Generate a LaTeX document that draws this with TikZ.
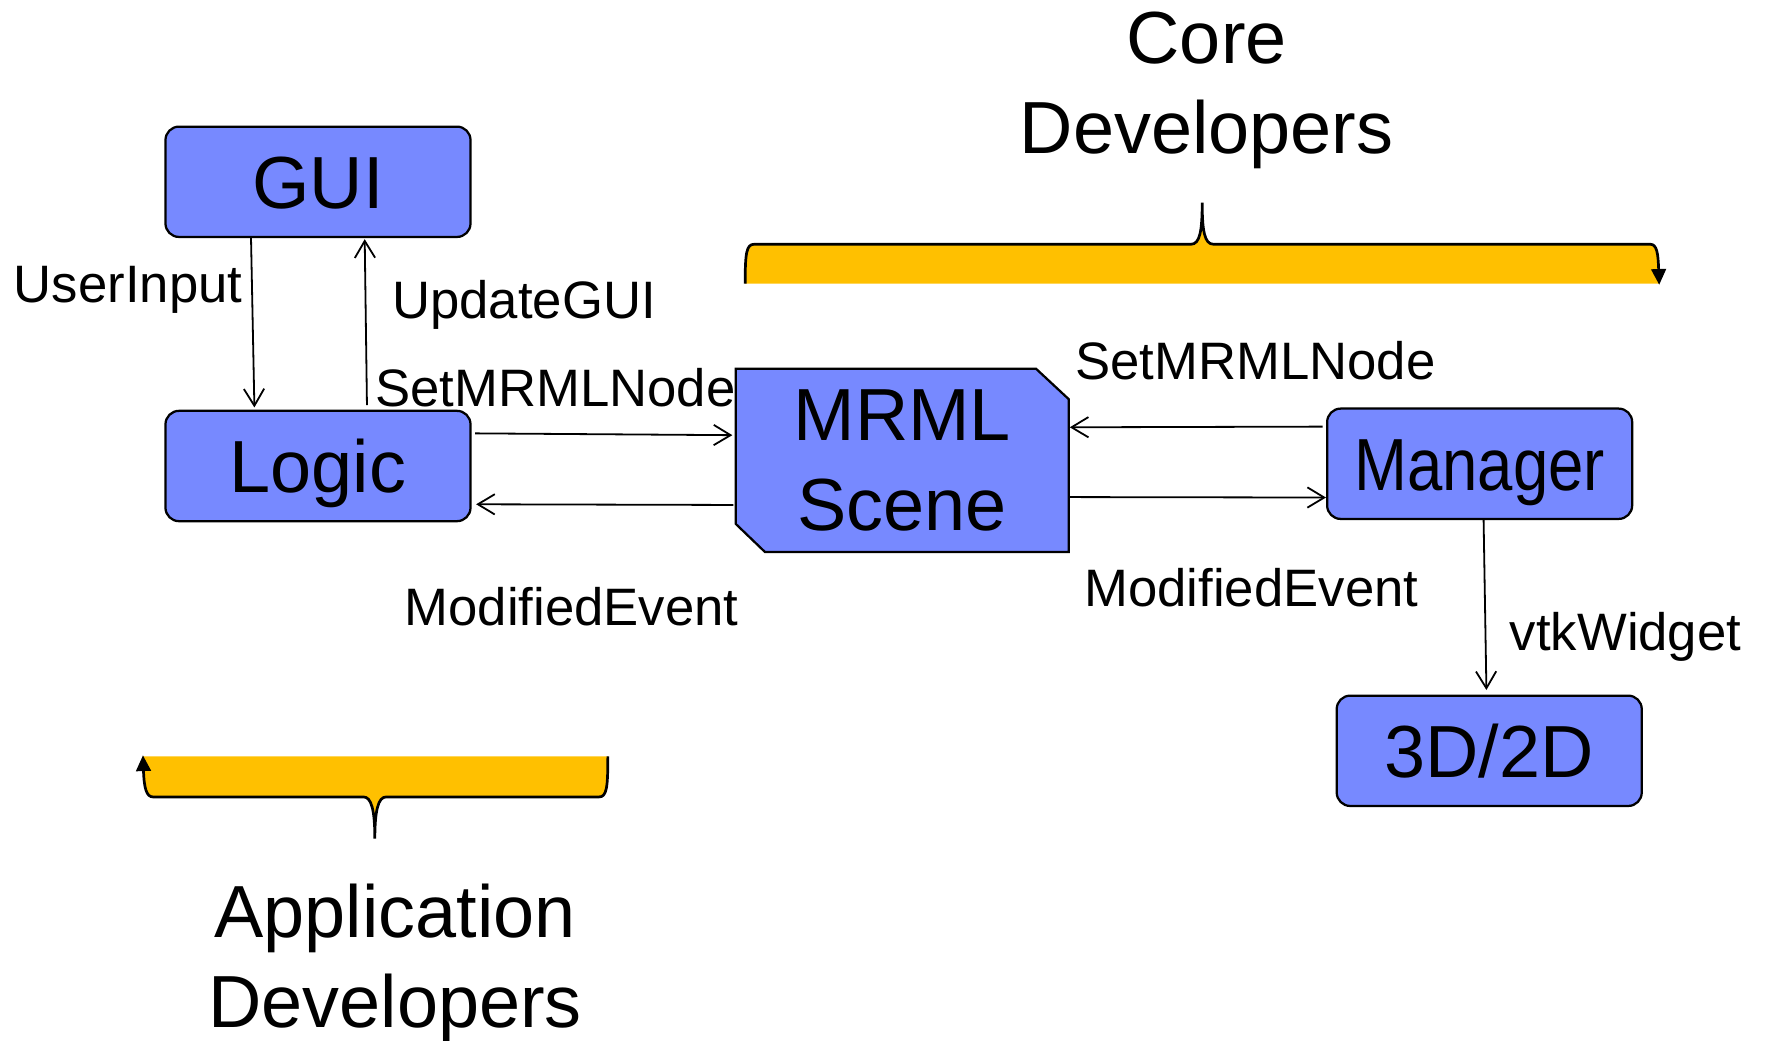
\documentclass[tikz,border=0pt]{standalone}
\usepackage{fontspec}
\setmainfont{Liberation Sans}
\usetikzlibrary{arrows.meta,calc,backgrounds}
\definecolor{boxblue}{RGB}{119,137,255}
\definecolor{braceorange}{RGB}{255,192,0}
\newcommand{\bigfnt}{\fontsize{32.8}{40}\selectfont}
\newcommand{\lblfnt}{\fontsize{23.4}{28}\selectfont}
\tikzset{
  box/.style={draw=black, line width=1pt, fill=boxblue, rounded corners=6pt,
    minimum width=135.5pt, minimum height=49pt, inner sep=0pt,
    text height=23.5pt, text depth=0pt, font=\bigfnt},
  lbl/.style={inner sep=0pt, anchor=base west, font=\lblfnt},
  arr/.style={line width=0.8pt, -{Straight Barb[length=7.5pt,width=9pt]}},
  bracefill/.style={fill=braceorange},
  braceline/.style={line width=1.2pt, -{Triangle[length=7pt,width=6.5pt]}},
  bigtext/.style={inner sep=0pt, align=center, font=\bigfnt}
}
\begin{document}
\begin{tikzpicture}[x=0.5pt,y=-0.5pt]
\useasboundingbox (0,0) rectangle (1568,924);

% boxes
\node[box] (gui) at (282.5,161.5) {GUI};
\node[box] (logic) at (282.5,414) {Logic};
\node[box] (manager) at (1314.5,412) {\scalebox{0.86}[1]{Manager}};
\node[box] (view) at (1323,667) {3D/2D};
\node[bigtext, minimum width=147.5pt, minimum height=81pt] (mrml) at (801.5,409) {MRML\\Scene};
\begin{pgfonlayer}{background}
\draw[line width=1pt, fill=boxblue]
  (mrml.north west) -- ($(mrml.north east)+(-29,0)$) -- ($(mrml.north east)+(0,27)$)
  -- (mrml.south east) -- ($(mrml.south west)+(26,0)$) -- ($(mrml.south west)+(0,-25)$) -- cycle;
\end{pgfonlayer}

% connectors
\draw[arr] ($(gui.south west)+(77,0)$) -- ($(logic.north west)+(80,-2)$);
\draw[arr] ($(logic.north west)+(180,-4)$) -- ($(gui.south west)+(178,1)$);
\draw[arr] ($(logic.north east)+(3,21)$) -- ($(mrml.north west)+(-3,59)$);
\draw[arr] ($(mrml.north west)+(-2,121)$) -- ($(logic.north east)+(4,84)$);
\draw[arr] ($(manager.north west)+(-3,17)$) -- ($(mrml.north east)+(1,52)$);
\draw[arr] ($(mrml.north east)+(1,114)$) -- ($(manager.north west)+(0,80)$);
\draw[arr] ($(manager.south west)+(140,0)$) -- ($(view.north west)+(134,-4)$);

% labels
\node[lbl] (l1) at (12,269) {UserInput};
\node[lbl] (l2) at (348,283) {UpdateGUI};
\node[lbl] (l3) at (333,361) {SetMRMLNode};
\node[lbl] (l4) at (955,337) {SetMRMLNode};
\node[lbl] (l5) at (359,556) {ModifiedEvent};
\node[lbl] (l6) at (963,539) {ModifiedEvent};
\node[lbl] (l7) at (1341,578) {vtkWidget};

% top brace
\fill[bracefill] (662,252) .. controls (662,225) and (663,217) .. (670,217) -- (1058,217)
  .. controls (1066,217) and (1068,205) .. (1068,180) .. controls (1068,205) and (1070,217) .. (1078,217)
  -- (1466,217) .. controls (1472,217) and (1473,225) .. (1474,252) -- cycle;
\draw[braceline] (662,252) .. controls (662,225) and (663,217) .. (670,217) -- (1058,217)
  .. controls (1066,217) and (1068,205) .. (1068,180) .. controls (1068,205) and (1070,217) .. (1078,217)
  -- (1466,217) .. controls (1472,217) and (1473,225) .. (1474,253);
\node[bigtext, anchor=north] (core) at (1072,10) {Core\\Developers};

% bottom brace
\fill[bracefill] (540,672) .. controls (540,700) and (539,708) .. (532,708) -- (343,708)
  .. controls (336,708) and (333,720) .. (333,745) .. controls (333,720) and (330,708) .. (323,708)
  -- (136,708) .. controls (130,708) and (128,700) .. (127,672) -- cycle;
\draw[braceline] (540,672) .. controls (540,700) and (539,708) .. (532,708) -- (343,708)
  .. controls (336,708) and (333,720) .. (333,745) .. controls (333,720) and (330,708) .. (323,708)
  -- (136,708) .. controls (130,708) and (128,700) .. (127,671);
\node[bigtext, anchor=north] (app) at (351,785) {Application\\Developers};
\end{tikzpicture}
\end{document}
